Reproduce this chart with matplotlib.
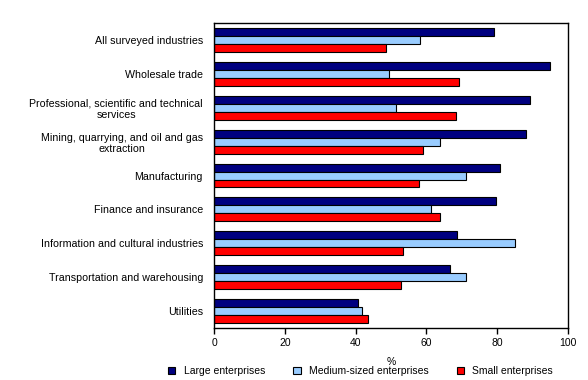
import numpy as np
import matplotlib
matplotlib.use("Agg")
import matplotlib.pyplot as plt
from matplotlib.patches import Patch

plt.rcParams["font.family"] = ["Liberation Sans", "DejaVu Sans"]

industries = [
    "All surveyed industries",
    "Wholesale trade",
    "Professional, scientific and technical\nservices",
    "Mining, quarrying, and oil and gas\nextraction",
    "Manufacturing",
    "Finance and insurance",
    "Information and cultural industries",
    "Transportation and warehousing",
    "Utilities",
]
large = [79.2, 94.8, 89.4, 88.2, 80.7, 79.6, 68.7, 66.8, 40.8]
medium = [58.3, 49.5, 51.5, 63.7, 71.3, 61.4, 85.1, 71.3, 41.9]
small = [48.7, 69.3, 68.4, 59.1, 58.0, 63.9, 53.5, 52.9, 43.6]
series_names = ["Large enterprises", "Medium-sized enterprises", "Small enterprises"]
colors = ["#000080", "#99ccff", "#ff0000"]

fig = plt.figure(figsize=(5.88, 3.80), dpi=100)
ax = fig.add_axes([0.364, 0.137, 0.602, 0.802])

y = np.arange(len(industries))
h = 0.235
for i, vals in enumerate([large, medium, small]):
    ax.barh(y + (i - 1) * h, vals, height=h, color=colors[i],
            edgecolor="black", linewidth=0.8)

ax.set_yticks(y)
ax.set_yticklabels(industries, fontsize=7.7, ha="right", multialignment="center")
ax.tick_params(axis="y", length=0, pad=8)
ax.set_ylim(len(industries) - 0.5, -0.5)
ax.set_xlim(0, 100)
ax.set_xticks([0, 20, 40, 60, 80, 100])
ax.tick_params(axis="x", labelsize=7.5, length=4, direction="out", width=1)
ax.set_xlabel("%", fontsize=7.5, labelpad=6)
for s in ax.spines.values():
    s.set_linewidth(1.0)

handles = [Patch(facecolor=c, edgecolor="black", linewidth=0.8) for c in colors]
fig.legend(handles, series_names, loc="lower left", bbox_to_anchor=(0.27, -0.015),
           ncol=3, frameon=False, fontsize=7.5, handlelength=0.7, handleheight=0.7,
           handletextpad=0.8, columnspacing=2.7)

fig.savefig("out.png", dpi=100)
